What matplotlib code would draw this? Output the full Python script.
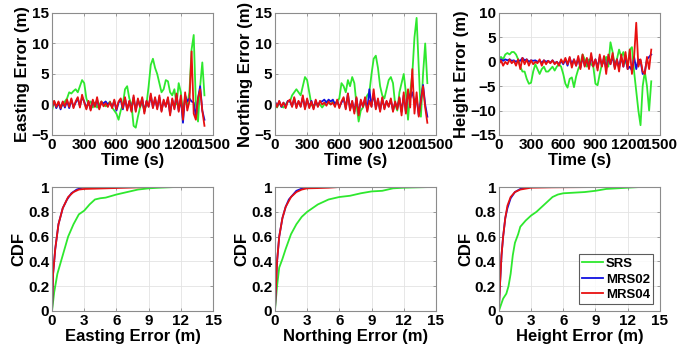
import numpy as np
import matplotlib.pyplot as plt

plt.rcParams['font.family'] = ['Liberation Sans', 'DejaVu Sans']
plt.rcParams['font.weight'] = 'bold'

# time axis of the error series (s)
time = np.arange(0, 1421, 20)

# --- Easting error (m)
east_srs = [-1.0, 0.5, -0.5, 0.3, -0.5, 0.0, 0.5, 1.0, 2.0, 1.8, 2.2, 2.5,
            2.0, 3.0, 4.0, 3.5, 1.0, 0.0, 0.5, -0.5, 0.3, -0.5, 0.0, 0.5,
            0.0, -0.3, 0.0, 0.5, -0.5, -1.0, -1.5, -2.5, -1.0, 0.0, 2.5, 3.0,
            1.0, 0.0, -3.5, -3.8, -2.0, -0.5, 0.5, -1.0, 0.0, 3.0, 6.5, 7.5,
            6.0, 5.0, 3.5, 2.0, 2.5, 4.0, 3.8, 2.0, 1.5, 2.5, 0.0, 3.5,
            2.0, -1.5, 1.0, 0.0, 2.0, 9.0, 11.4, 0.0, -2.8, 3.0, 6.9, 1.5]
east_mrs02 = [-0.3, 0.5, -0.6, 0.3, -0.8, 0.4, -0.5, 0.6, -0.6, 0.8, -0.4, 0.3,
              1.0, -0.3, 1.2, 0.5, -0.6, 0.4, -0.8, 0.6, -0.3, 0.8, -0.6, 0.3,
              0.2, 0.5, 0.0, 0.3, -0.4, 0.6, -1.0, 0.3, 0.8, -0.8, 1.0, -0.8,
              0.5, -1.0, 1.2, -1.0, 0.8, -0.3, 1.0, -1.2, 0.5, -0.3, 1.5, -0.5,
              1.0, -0.6, 1.2, -1.0, 0.6, -0.3, 1.0, -1.5, 0.8, -0.6, 1.5, -1.0,
              1.0, -3.0, 1.5, 0.5, 1.0, 0.5, 0.3, -2.0, 1.0, 3.0, -1.0, -2.5]
east_mrs04 = [-0.5, 0.6, -0.4, 0.5, -0.6, 0.5, -0.3, 0.8, -0.4, 1.0, -0.6, 0.5,
              1.2, -0.5, 1.6, 0.3, -0.8, 0.6, -1.0, 0.8, -0.4, 1.2, -0.8, 0.5,
              -0.3, 0.2, -0.4, 0.4, -0.6, 0.8, -0.8, 0.5, 1.0, -0.6, 1.2, -1.0,
              0.6, -1.2, 1.5, -1.2, 1.0, -0.4, 1.2, -1.5, 0.6, -0.4, 1.8, -0.6,
              1.2, -0.8, 1.5, -1.2, 0.8, -0.4, 1.2, -1.8, 1.0, -0.8, 1.8, -1.2,
              1.5, -2.5, 2.0, -1.0, 0.5, 8.7, -1.5, -2.5, 1.0, 2.5, -1.0, -3.5]

# --- Northing error (m)
north_srs = [0.0, -0.5, 0.3, -0.3, -0.5, 0.0, 0.5, 0.5, 1.5, 2.0, 2.5, 2.0,
             1.5, 3.0, 4.5, 4.0, 2.0, 0.0, -0.5, 0.3, 0.0, 0.0, -0.5, 0.0,
             0.5, 0.3, 0.0, 0.5, 0.0, 0.5, 1.0, 3.5, 3.0, 2.0, 4.0, 3.0,
             4.5, 3.5, 0.0, -2.8, -1.0, -0.5, 0.5, 1.5, 2.0, 5.0, 7.5, 8.0,
             6.0, 3.0, 1.5, 1.0, 2.5, 4.0, 4.5, 3.5, 0.0, -1.0, 2.0, 3.5,
             5.0, 2.0, -2.5, 2.0, 5.0, 11.0, 14.2, 6.0, -2.0, 5.0, 10.0, 3.5]
north_mrs02 = [0.5, -0.3, 0.5, -0.4, 0.3, -0.4, 0.6, 0.5, -0.3, 1.0, -0.4, 0.5,
               -0.3, 1.2, -0.6, 0.8, -0.4, 0.6, -0.6, 0.6, -0.3, 0.5, 0.5, 0.8,
               0.3, 0.8, 0.5, 0.8, 0.0, 0.6, -0.4, 0.3, 1.0, -0.6, 1.8, -0.8,
               0.5, -1.2, 1.0, -1.5, 0.6, -0.3, 1.0, -1.0, 2.5, -0.3, 1.8, -0.6,
               0.8, -1.0, 1.0, -0.6, 0.5, -0.3, 0.8, -1.0, 0.3, -0.6, 1.0, -1.2,
               1.5, -1.2, 2.0, 1.0, 2.0, 0.5, 1.0, -1.8, 0.8, 3.2, 0.0, -2.0]
north_mrs04 = [0.5, -0.4, 0.6, -0.3, 0.3, -0.6, 0.5, 0.8, -0.4, 1.2, -0.6, 0.6,
               -0.4, 1.5, -0.8, 1.0, -0.6, 0.5, -0.8, 0.8, -0.4, 0.6, 0.0, 0.3,
               -0.2, 0.5, 0.0, 0.3, -0.4, 0.8, -0.6, 0.5, 1.2, -0.8, 1.8, -1.0,
               0.6, -1.5, 1.2, -1.8, 0.8, -0.4, 1.2, -1.2, 0.6, -0.4, 2.5, -0.8,
               1.0, -1.2, 1.2, -0.8, 0.6, -0.4, 1.0, -1.2, 0.5, -0.8, 1.2, -1.8,
               2.0, -1.5, 2.5, -0.5, 5.8, -1.5, 2.0, -2.0, 0.5, 3.0, -0.5, -3.0]

# --- Height error (m)
height_srs = [0.5, 1.0, 0.5, 1.5, 1.8, 1.5, 2.0, 2.0, 1.5, 0.5, -1.0, -2.0,
              -2.0, -3.5, -4.5, -4.3, -2.0, -0.5, -1.5, -2.5, -1.5, -1.0, -2.0, -2.0,
              -1.5, -1.0, -1.8, -1.0, -0.5, -1.0, -2.5, -4.5, -5.3, -3.5, -3.2, -5.2,
              -3.0, -1.5, -0.5, 1.5, 0.5, -1.0, 0.5, -0.5, -1.0, -4.5, -4.8, -2.5,
              -0.5, 0.0, 1.0, -1.0, 4.0, 2.0, -1.0, 0.5, 2.5, 1.0, 2.0, 0.0,
              -1.0, 2.5, 3.0, -2.0, -6.0, -10.0, -13.0, -5.0, -2.0, -5.0, -10.0, -4.0]
height_mrs02 = [0.3, 0.5, 0.2, 0.5, 0.3, 0.5, 0.2, 0.3, 0.0, 0.3, 0.2, 0.8,
                0.3, 0.5, 0.0, 0.3, 0.2, 0.3, 0.0, 0.2, -0.2, 0.3, 0.0, 0.2,
                -0.2, 0.3, -0.3, 0.0, -0.5, 0.2, -0.5, 0.5, -0.8, 0.8, -0.5, 0.5,
                -0.8, 0.8, -1.2, 1.0, -0.8, 0.5, -1.2, 1.2, -0.8, 0.5, -1.2, 1.0,
                -0.8, 0.8, -1.5, 1.0, -0.5, 1.2, -1.2, 0.5, -1.2, 1.0, -1.0, 1.2,
                -1.5, -1.0, -1.8, 1.0, -1.5, 0.5, 0.3, -2.5, -2.0, 0.5, 1.0, 1.5]
height_mrs04 = [-0.5, 0.3, -0.8, 0.0, -0.5, 0.5, -0.3, 0.2, -0.8, 0.5, -1.5, 0.8,
                -0.5, 0.5, -0.8, 0.3, -0.5, 0.0, -0.3, 0.5, -0.8, 0.3, -0.5, 0.2,
                -0.3, 0.3, -0.5, 0.0, -0.8, 0.5, -0.3, 0.8, -0.5, 1.0, -1.2, 0.5,
                -0.8, 1.2, -1.5, 1.5, -1.0, 0.8, -1.5, 1.8, -1.0, 0.5, -1.8, 1.5,
                -1.0, 1.2, -2.5, 1.5, -0.5, 1.8, -1.5, 0.5, -2.0, 1.5, -1.0, 2.0,
                -1.5, 2.5, -2.5, 1.0, 8.0, -1.0, 0.5, -2.0, -2.5, 1.0, -1.5, 2.5]

# --- CDF curves: (error m, cdf)
east_cdf_srs_x = [0, 0.2, 0.5, 1, 1.5, 2, 2.5, 3, 3.5, 4, 4.5, 5, 6, 7, 8, 9, 10, 11.3]
east_cdf_srs_y = [0, 0.15, 0.3, 0.45, 0.6, 0.7, 0.78, 0.81, 0.86, 0.9, 0.91, 0.915, 0.94, 0.96, 0.98, 0.99, 0.995, 1]
east_cdf_02_x = [0, 0.1, 0.3, 0.6, 1, 1.4, 1.8, 2.3, 2.8, 3.3]
east_cdf_02_y = [0, 0.3, 0.5, 0.7, 0.83, 0.9, 0.95, 0.98, 0.995, 1]
east_cdf_04_x = [0, 0.1, 0.3, 0.6, 1, 1.5, 2, 2.5, 3, 5, 7, 8.8]
east_cdf_04_y = [0, 0.3, 0.5, 0.7, 0.83, 0.92, 0.96, 0.98, 0.985, 0.99, 0.995, 1]

north_cdf_srs_x = [0, 0.2, 0.4, 0.7, 1, 1.5, 2, 2.5, 3, 4, 5, 6, 7, 8, 9, 10, 11, 12, 14.2]
north_cdf_srs_y = [0, 0.2, 0.35, 0.42, 0.5, 0.62, 0.7, 0.76, 0.8, 0.86, 0.9, 0.92, 0.93, 0.95, 0.965, 0.97, 0.99, 0.995, 1]
north_cdf_02_x = [0, 0.2, 0.4, 0.7, 1, 1.3, 2, 2.7, 3.2]
north_cdf_02_y = [0, 0.4, 0.6, 0.75, 0.84, 0.9, 0.97, 0.995, 1]
north_cdf_04_x = [0, 0.2, 0.4, 0.7, 1, 1.5, 2, 2.5, 3, 4, 5, 5.9]
north_cdf_04_y = [0, 0.4, 0.6, 0.75, 0.84, 0.92, 0.96, 0.98, 0.99, 0.992, 0.995, 1]

height_cdf_srs_x = [0, 0.2, 0.4, 0.7, 0.9, 1.1, 1.3, 1.5, 1.8, 2, 2.5, 3, 3.5, 4, 4.5, 5, 5.5, 6, 7, 8, 9, 10, 11, 13]
height_cdf_srs_y = [0, 0.05, 0.1, 0.14, 0.2, 0.3, 0.45, 0.55, 0.62, 0.68, 0.73, 0.77, 0.8, 0.84, 0.88, 0.92, 0.94, 0.95, 0.955, 0.96, 0.97, 0.985, 0.99, 1]
height_cdf_02_x = [0, 0.1, 0.25, 0.4, 0.6, 0.8, 1.1, 1.5, 2, 2.5, 2.9]
height_cdf_02_y = [0, 0.2, 0.45, 0.6, 0.75, 0.83, 0.91, 0.96, 0.985, 0.995, 1]
height_cdf_04_x = [0, 0.1, 0.25, 0.4, 0.6, 0.8, 1.1, 1.5, 2, 3, 5, 8.3]
height_cdf_04_y = [0, 0.2, 0.45, 0.6, 0.75, 0.85, 0.92, 0.96, 0.98, 0.995, 0.998, 1]

labels = ['SRS', 'MRS02', 'MRS04']
colors = ['#2ee82e', '#1010e0', '#e81010']

top_series = [(east_srs, east_mrs02, east_mrs04),
              (north_srs, north_mrs02, north_mrs04),
              (height_srs, height_mrs02, height_mrs04)]
top_ylabels = ['Easting Error (m)', 'Northing Error (m)', 'Height Error (m)']
top_ylims = [(-5, 15), (-5, 15), (-15, 10)]
top_yticks = [[-5, 0, 5, 10, 15], [-5, 0, 5, 10, 15], [-15, -10, -5, 0, 5, 10]]

cdf_series = [((east_cdf_srs_x, east_cdf_srs_y), (east_cdf_02_x, east_cdf_02_y), (east_cdf_04_x, east_cdf_04_y)),
              ((north_cdf_srs_x, north_cdf_srs_y), (north_cdf_02_x, north_cdf_02_y), (north_cdf_04_x, north_cdf_04_y)),
              ((height_cdf_srs_x, height_cdf_srs_y), (height_cdf_02_x, height_cdf_02_y), (height_cdf_04_x, height_cdf_04_y))]
cdf_xlabels = ['Easting Error (m)', 'Northing Error (m)', 'Height Error (m)']

fig = plt.figure(figsize=(6.89, 3.53), dpi=100)
lefts = [0.0755, 0.399, 0.724]
w = 0.2337
tick_fs, label_fs = 11, 12


def style(ax):
    ax.grid(True, color='#e3e3e3', linewidth=0.6)
    ax.set_axisbelow(True)
    for s in ax.spines.values():
        s.set_color('#8c8c8c')
        s.set_linewidth(0.8)
    ax.tick_params(direction='in', length=2, width=0.6, color='#8c8c8c',
                   labelsize=tick_fs, pad=2, top=True, right=True)


for i in range(3):
    ax = fig.add_axes([lefts[i], 0.6176, w, 0.3456])
    for data, c in zip(top_series[i], colors):
        ax.plot(time, data, color=c, lw=1.3)
    ax.set_xlim(0, 1500)
    ax.set_xticks([0, 300, 600, 900, 1200, 1500])
    ax.set_ylim(*top_ylims[i])
    ax.set_yticks(top_yticks[i])
    ax.set_xlabel('Time (s)', fontsize=label_fs, fontweight='bold', labelpad=1)
    ax.set_ylabel(top_ylabels[i], fontsize=label_fs, fontweight='bold', labelpad=1)
    style(ax)

    ax2 = fig.add_axes([lefts[i], 0.119, w, 0.351])
    for (cx, cy), c, lab in zip(cdf_series[i], colors, labels):
        ax2.plot(cx, cy, color=c, lw=1.3, label=lab)
    ax2.set_xlim(0, 15)
    ax2.set_xticks([0, 3, 6, 9, 12, 15])
    ax2.set_ylim(0, 1)
    ax2.set_yticks([0, 0.2, 0.4, 0.6, 0.8, 1])
    ax2.set_yticklabels(['0', '0.2', '0.4', '0.6', '0.8', '1'])
    ax2.set_xlabel(cdf_xlabels[i], fontsize=label_fs, fontweight='bold', labelpad=1)
    ax2.set_ylabel('CDF', fontsize=label_fs, fontweight='bold', labelpad=1)
    style(ax2)
    if i == 2:
        leg = ax2.legend(loc='lower right', fontsize=9.5, frameon=True, fancybox=False,
                         handlelength=1.6, handletextpad=0.2, labelspacing=0.25,
                         borderpad=0.25, borderaxespad=0.5)
        leg.get_frame().set_edgecolor('#333333')
        leg.get_frame().set_linewidth(0.8)

plt.savefig('out.png', dpi=100)
